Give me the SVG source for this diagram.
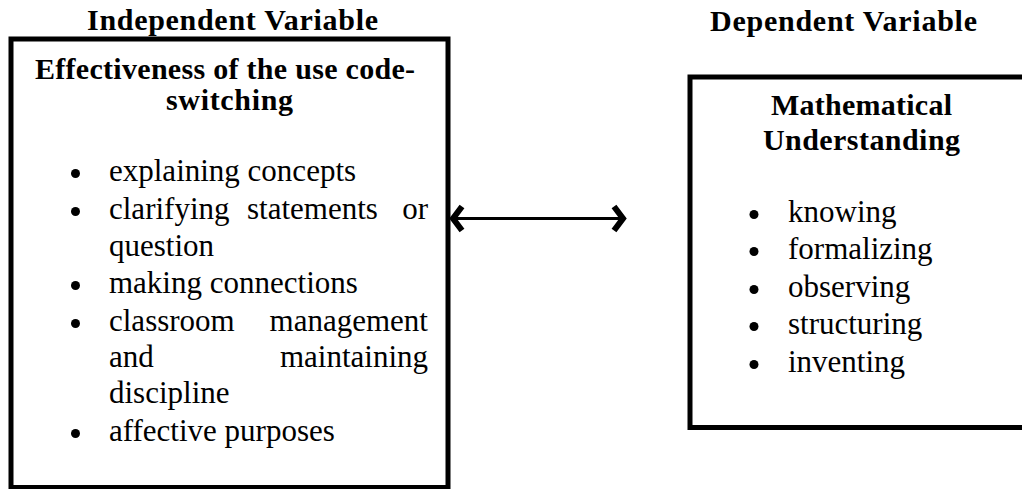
<svg xmlns="http://www.w3.org/2000/svg" width="1022" height="489" viewBox="0 0 1022 489">
  <style>
    .box { fill: none; stroke: #000; stroke-width: 5; }
    .hd { font-family: "Liberation Serif", "Times New Roman", serif; font-weight: bold; font-size: 30px; fill: #000; text-anchor: middle; }
    .tx { font-family: "Liberation Serif", "Times New Roman", serif; font-size: 31px; fill: #000; }
    .end { text-anchor: end; }
    .dot { fill: #000; }
    .conn { stroke: #000; stroke-width: 3; fill: none; }
  </style>
  <defs>
    <marker id="chev" viewBox="0 0 16 28" refX="12" refY="14" markerWidth="16" markerHeight="28" markerUnits="userSpaceOnUse" orient="auto-start-reverse" overflow="visible">
      <path d="M2,2 L11,14 L2,26" fill="none" stroke="#000" stroke-width="6"/>
    </marker>
  </defs>
  <rect width="1022" height="489" fill="#fff"/>

  <g id="independent">
    <text class="hd" x="232.5" y="30" textLength="291">Independent Variable</text>
    <rect class="box" x="11" y="39" width="437" height="448.5"/>
    <text class="hd" x="225" y="79" textLength="380">Effectiveness of the use code-</text>
    <text class="hd" x="229.5" y="110" textLength="127">switching</text>
    <circle class="dot" cx="75.5" cy="173.5" r="4.5"/>
    <text class="tx" x="109" y="181">explaining concepts</text>
    <circle class="dot" cx="75.5" cy="211.5" r="4.5"/>
    <text class="tx" x="109" y="219">clarifying</text>
    <text class="tx" x="247" y="219">statements</text>
    <text class="tx end" x="428" y="219">or</text>
    <text class="tx" x="109" y="256">question</text>
    <circle class="dot" cx="75.5" cy="285.5" r="4.5"/>
    <text class="tx" x="109" y="293">making connections</text>
    <circle class="dot" cx="75.5" cy="323.5" r="4.5"/>
    <text class="tx" x="109" y="331">classroom</text>
    <text class="tx end" x="428" y="331">management</text>
    <text class="tx" x="109" y="367">and</text>
    <text class="tx end" x="428" y="367">maintaining</text>
    <text class="tx" x="109" y="403">discipline</text>
    <circle class="dot" cx="75.5" cy="433.5" r="4.5"/>
    <text class="tx" x="109" y="441">affective purposes</text>
  </g>

  <g id="dependent">
    <text class="hd" x="843.5" y="31" textLength="267">Dependent Variable</text>
    <rect class="box" x="690" y="77" width="345" height="350.5"/>
    <text class="hd" x="861.5" y="115" textLength="181">Mathematical</text>
    <text class="hd" x="861.5" y="150" textLength="197">Understanding</text>
    <circle class="dot" cx="754" cy="214.5" r="4.5"/>
    <text class="tx" x="788" y="222">knowing</text>
    <circle class="dot" cx="754" cy="251.5" r="4.5"/>
    <text class="tx" x="788" y="259">formalizing</text>
    <circle class="dot" cx="754" cy="289.5" r="4.5"/>
    <text class="tx" x="788" y="297">observing</text>
    <circle class="dot" cx="754" cy="326.5" r="4.5"/>
    <text class="tx" x="788" y="334">structuring</text>
    <circle class="dot" cx="754" cy="364.5" r="4.5"/>
    <text class="tx" x="788" y="372">inventing</text>
  </g>

  <g id="connectors">
    <line class="conn" x1="452" y1="218.5" x2="624" y2="218.5" marker-start="url(#chev)" marker-end="url(#chev)"/>
  </g>
</svg>
